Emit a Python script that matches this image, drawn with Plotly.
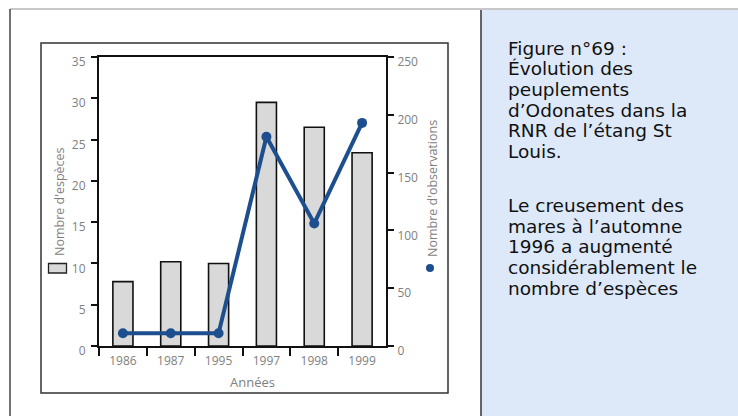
import plotly.graph_objects as go

W, H = 738, 416

years = ["1986", "1987", "1995", "1997", "1998", "1999"]
especes = [7.8, 10.2, 10.0, 29.5, 26.5, 23.4]
observations = [11, 11, 11, 181, 106, 193]
left_ticks = [0, 5, 10, 15, 20, 25, 30, 35]
right_ticks = [0, 50, 100, 150, 200, 250]
caption_lines = [
    "Figure n°69 :",
    "Évolution des",
    "peuplements",
    "d’Odonates dans la",
    "RNR de l’étang St",
    "Louis.",
    "",
    "Le creusement des",
    "mares à l’automne",
    "1996 a augmenté",
    "considérablement le",
    "nombre d’espèces",
]

def px(x):
    return x / W

def py(y):
    return (H - y) / H

GRAY = "#808080"
BLUE = "#1d4f8e"
TFONT = dict(family="Open Sans, Liberation Sans, sans-serif", size=12, color=GRAY)

fig = go.Figure()
fig.add_trace(go.Bar(
    x=years, y=especes, width=0.42,
    marker=dict(color="#d9d9d9", line=dict(color="#111111", width=1.6)),
    yaxis="y", showlegend=False,
))
fig.add_trace(go.Scatter(
    x=years, y=observations, mode="lines+markers",
    line=dict(color=BLUE, width=4),
    marker=dict(color=BLUE, size=10),
    yaxis="y2", showlegend=False,
))

fig.update_layout(
    width=W, height=H, autosize=False,
    margin=dict(l=0, r=0, t=0, b=0, pad=0),
    paper_bgcolor="white", plot_bgcolor="white",
    xaxis=dict(
        domain=[px(99), px(386)], type="category", range=[-0.5, 5.5],
        tickson="boundaries", ticks="outside", ticklen=8, tickwidth=1.5,
        tickcolor="#111111", showline=True, linecolor="#111111", linewidth=2,
        mirror=True, showgrid=False, tickfont=TFONT, ticklabelstandoff=3,
        anchor="y", automargin=False,
    ),
    yaxis=dict(
        domain=[py(346), py(57)], range=[0, 35], tickvals=left_ticks,
        ticks="outside", ticklen=6, tickwidth=1.5, tickcolor="#111111",
        showline=True, linecolor="#111111", linewidth=2, showgrid=False,
        zeroline=False, tickfont=TFONT, ticklabelshift=5, ticklabelstandoff=3,
        automargin=False,
    ),
    yaxis2=dict(
        overlaying="y", side="right", range=[0, 250], tickvals=right_ticks,
        ticks="outside", ticklen=6, tickwidth=1.5, tickcolor="#111111",
        showline=True, linecolor="#111111", linewidth=2, showgrid=False,
        zeroline=False, tickfont=TFONT, ticklabelshift=5, ticklabelstandoff=1,
        automargin=False,
    ),
)

shapes = [
    # right caption panel
    dict(type="rect", xref="paper", yref="paper", x0=px(481), x1=px(740), y0=py(418), y1=py(10),
         fillcolor="#dde9f9", line=dict(width=0), layer="below"),
    dict(type="line", xref="paper", yref="paper", x0=px(481), x1=px(481), y0=py(418), y1=py(10),
         line=dict(color="#333333", width=1.5)),
    # top gray border
    dict(type="line", xref="paper", yref="paper", x0=px(10), x1=px(740), y0=py(9), y1=py(9),
         line=dict(color="#c8c8c8", width=2)),
    # left dark border
    dict(type="line", xref="paper", yref="paper", x0=px(10), x1=px(10), y0=py(418), y1=py(9),
         line=dict(color="#444444", width=1.5)),
    # chart frame
    dict(type="rect", xref="paper", yref="paper", x0=px(41), x1=px(448), y0=py(393), y1=py(43),
         line=dict(color="#333333", width=1.5), layer="below"),
    # legend swatch (bars)
    dict(type="rect", xref="paper", yref="paper", x0=px(48.5), x1=px(66.5), y0=py(273), y1=py(263.5),
         fillcolor="#d9d9d9", line=dict(color="#222222", width=1.3)),
    # legend dot (line)
    dict(type="circle", xref="paper", yref="paper", x0=px(426), x1=px(434), y0=py(272), y1=py(264),
         fillcolor=BLUE, line=dict(color=BLUE, width=0)),
]
fig.update_layout(shapes=shapes)

ann = [
    dict(text="Nombre d'espèces", x=px(59), y=py(202), textangle=-90,
         font=dict(family="Open Sans, Liberation Sans, sans-serif", size=12.5, color=GRAY)),
    dict(text="Nombre d'observations", x=px(432), y=py(189), textangle=-90,
         font=dict(family="Open Sans, Liberation Sans, sans-serif", size=12.5, color=GRAY)),
    dict(text="Années", x=px(252), y=py(382),
         font=dict(family="Open Sans, Liberation Sans, sans-serif", size=13, color=GRAY)),
]
y0 = 48
for i, line in enumerate(caption_lines):
    if not line:
        continue
    yy = y0 + i * 20.7 if i < 6 else 205.3 + (i - 7) * 20.7
    ann.append(dict(text=line, x=px(506), y=py(yy), xanchor="left",
                    font=dict(family="DejaVu Sans", size=18.5, color="#111111")))
for a in ann:
    a.update(xref="paper", yref="paper", showarrow=False)
    a.setdefault("xanchor", "center")
    a.setdefault("yanchor", "middle")
fig.update_layout(annotations=ann)

fig.write_html(
    "out.html",
    config={"displayModeBar": False, "responsive": False},
    post_script=(
        "document.body.style.margin='0';document.body.style.padding='0';"
        "document.documentElement.style.overflow='hidden';"
    ),
)
